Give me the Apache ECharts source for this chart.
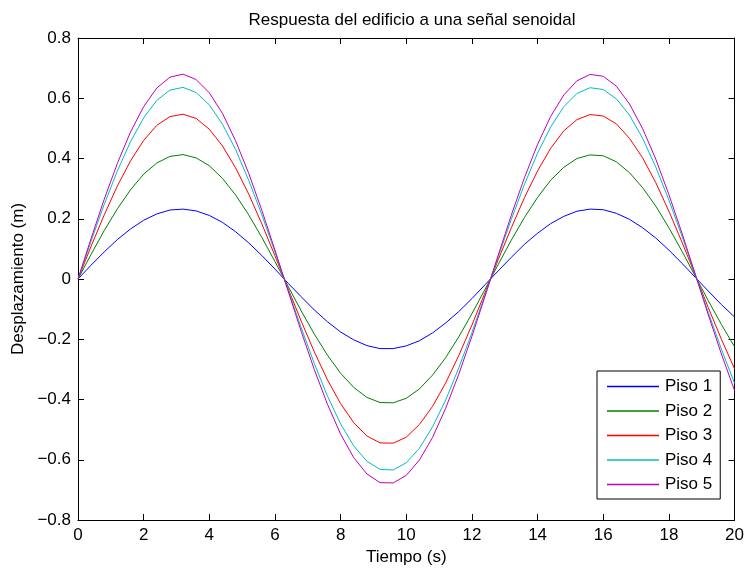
<!DOCTYPE html>
<html>
<head>
<meta charset="utf-8">
<script src="https://cdn.jsdelivr.net/npm/echarts@6/dist/echarts.min.js"></script>
<style>html,body{margin:0;padding:0;background:#fff}#c{width:747px;height:571px}</style>
</head>
<body>
<div id="c"></div>
<script>
const tiempo = [0,0.4,0.8,1.2,1.6,2.0,2.4,2.8,3.2,3.6,4.0,4.4,4.8,5.2,5.6,6.0,6.4,6.8,7.2,7.6,8.0,8.4,8.8,9.2,9.6,10.0,10.4,10.8,11.2,11.6,12.0,12.4,12.8,13.2,13.6,14.0,14.4,14.8,15.2,15.6,16.0,16.4,16.8,17.2,17.6,18.0,18.4,18.8,19.2,19.6,20.0];
const piso1 = [0,0.046,0.090,0.131,0.166,0.195,0.216,0.229,0.232,0.226,0.211,0.188,0.157,0.120,0.078,0.033,-0.014,-0.059,-0.103,-0.142,-0.176,-0.202,-0.221,-0.231,-0.231,-0.222,-0.205,-0.179,-0.146,-0.108,-0.065,-0.019,0.027,0.072,0.115,0.152,0.184,0.208,0.225,0.232,0.230,0.218,0.198,0.170,0.136,0.096,0.052,0.006,-0.040,-0.085,-0.126];
const piso2 = [0,0.082,0.161,0.233,0.296,0.348,0.385,0.407,0.413,0.402,0.376,0.334,0.279,0.213,0.138,0.058,-0.024,-0.106,-0.183,-0.253,-0.313,-0.360,-0.393,-0.410,-0.411,-0.396,-0.365,-0.319,-0.261,-0.192,-0.115,-0.034,0.048,0.129,0.204,0.271,0.328,0.371,0.400,0.412,0.409,0.389,0.353,0.303,0.242,0.170,0.092,0.010,-0.072,-0.151,-0.225];
const piso3 = [0,0.109,0.213,0.309,0.392,0.460,0.510,0.539,0.547,0.533,0.497,0.442,0.369,0.282,0.183,0.077,-0.032,-0.140,-0.242,-0.335,-0.414,-0.477,-0.521,-0.544,-0.545,-0.525,-0.483,-0.423,-0.345,-0.254,-0.153,-0.045,0.064,0.170,0.270,0.359,0.434,0.492,0.529,0.546,0.541,0.515,0.467,0.402,0.320,0.225,0.122,0.014,-0.095,-0.200,-0.298];
const piso4 = [0,0.126,0.248,0.359,0.456,0.535,0.593,0.627,0.636,0.619,0.578,0.514,0.430,0.328,0.213,0.090,-0.037,-0.162,-0.281,-0.389,-0.481,-0.554,-0.605,-0.632,-0.634,-0.610,-0.562,-0.491,-0.402,-0.295,-0.178,-0.053,0.074,0.198,0.314,0.418,0.505,0.572,0.616,0.635,0.629,0.598,0.544,0.467,0.372,0.262,0.142,0.016,-0.111,-0.233,-0.346];
const piso5 = [0,0.135,0.265,0.384,0.488,0.572,0.634,0.670,0.680,0.662,0.618,0.550,0.459,0.351,0.228,0.096,-0.040,-0.174,-0.301,-0.416,-0.515,-0.593,-0.647,-0.676,-0.677,-0.652,-0.601,-0.526,-0.429,-0.316,-0.190,-0.057,0.079,0.212,0.336,0.447,0.540,0.611,0.658,0.679,0.673,0.640,0.581,0.499,0.398,0.280,0.152,0.017,-0.119,-0.249,-0.370];
const nombres = ['Piso 1','Piso 2','Piso 3','Piso 4','Piso 5'];
const colores = ['#0000ff','#008000','#ff0000','#00bfbf','#bf00bf'];
const titulo = 'Respuesta del edificio a una señal senoidal';
const xNombre = 'Tiempo (s)';
const yNombre = 'Desplazamiento (m)';

const FONT = '"Liberation Sans", Arial, Helvetica, sans-serif';
const FS = 17;
const valores = [piso1, piso2, piso3, piso4, piso5];
const fmtY = v => { if (Math.abs(v) < 1e-9) return '0'; const s = Math.abs(v).toFixed(1); return (v < 0 ? '\u2212' : '') + s; };
const fmtX = v => String(Math.round(v));

const chart = echarts.init(document.getElementById('c'), null, {renderer: 'canvas'});
const axisCommon = {
  axisLine: {show: true, onZero: false, lineStyle: {color: '#000', width: 1}},
  axisTick: {show: true, inside: true, length: 6, lineStyle: {color: '#000', width: 1}},
  splitLine: {show: false}
};
chart.setOption({
  animation: false,
  backgroundColor: '#fff',
  textStyle: {fontFamily: FONT},
  title: {text: titulo, left: 407, top: 7, textAlign: 'center',
    textStyle: {fontFamily: FONT, fontSize: FS, fontWeight: 'normal', color: '#000'}},
  grid: {left: 78, top: 38, width: 658, height: 482, containLabel: false},
  legend: {
    orient: 'vertical', left: 597, top: 371,
    data: nombres.map(n => ({name: n, icon: 'rect'})),
    itemWidth: 52, itemHeight: 1.5, itemGap: 7.5,
    padding: [7, 8, 6, 10],
    backgroundColor: '#fff', borderColor: '#000', borderWidth: 1,
    textStyle: {fontFamily: FONT, fontSize: FS, color: '#000', lineHeight: 14.5, padding: [0, 0, 0, 1]}
  },
  xAxis: [
    Object.assign({type: 'value', min: 0, max: 20, interval: 2, position: 'bottom',
      name: xNombre, nameLocation: 'middle', nameGap: 25,
      nameTextStyle: {fontFamily: FONT, fontSize: FS, color: '#000'},
      axisLabel: {color: '#000', fontSize: FS, fontFamily: FONT, margin: 7, formatter: fmtX}}, axisCommon),
    Object.assign({type: 'value', min: 0, max: 20, interval: 2, position: 'top',
      axisLabel: {show: false}}, axisCommon)
  ],
  yAxis: [
    Object.assign({type: 'value', min: -0.8, max: 0.8, interval: 0.2, position: 'left',
      name: yNombre, nameLocation: 'middle', nameGap: 48, nameRotate: 90,
      nameTextStyle: {fontFamily: FONT, fontSize: FS, color: '#000'},
      axisLabel: {color: '#000', fontSize: FS, fontFamily: FONT, margin: 7, formatter: fmtY}}, axisCommon),
    Object.assign({type: 'value', min: -0.8, max: 0.8, interval: 0.2, position: 'right',
      axisLabel: {show: false}}, axisCommon)
  ],
  series: nombres.map((n, i) => ({
    name: n, type: 'line', xAxisIndex: 0, yAxisIndex: 0,
    data: tiempo.map((t, j) => [t, valores[i][j]]),
    symbol: 'none', showSymbol: false,
    lineStyle: {color: colores[i], width: 1},
    itemStyle: {color: colores[i]},
    emphasis: {disabled: true}
  }))
});
</script>
</body>
</html>
